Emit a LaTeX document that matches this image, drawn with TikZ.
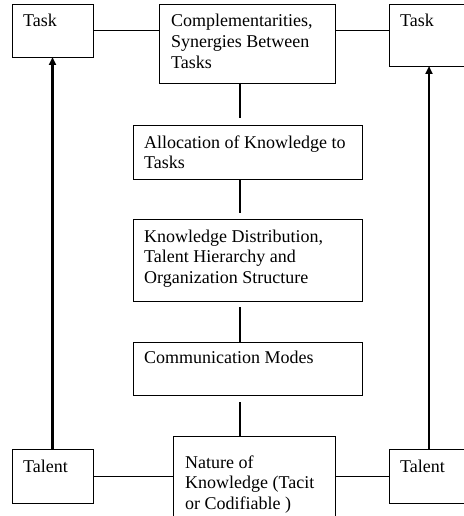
\documentclass[tikz,border=0pt]{standalone}
\usepackage{fontspec}
\setmainfont{Liberation Serif}
\usetikzlibrary{arrows.meta}
\newcommand{\lns}[1]{\begin{tabular}[t]{@{}l@{}}#1\end{tabular}}
\begin{document}
\begin{tikzpicture}[x=1pt,y=-1pt,
  bx/.style={draw, line width=0.9pt, anchor=north west, inner sep=0pt, outer sep=0pt},
  tx/.style={anchor=base west, inner sep=0pt, font=\fontsize{18}{20.7}\selectfont},
  hl/.style={line width=0.9pt},
  vl/.style={line width=2.4pt},
  arr/.style={vl, -{Triangle[length=8pt,width=7pt]}}]
\useasboundingbox[fill=white] (0,0) rectangle (463,516);
% boxes
\node[bx, minimum width=81pt, minimum height=53pt] (taskL) at (12,4) {};
\node[bx, minimum width=176pt, minimum height=79pt] (comp) at (159,4) {};
\node[bx, minimum width=80pt, minimum height=62pt] (taskR) at (389,4) {};
\node[bx, minimum width=229pt, minimum height=54pt] (alloc) at (133,125) {};
\node[bx, minimum width=229pt, minimum height=82pt] (kd) at (133,219) {};
\node[bx, minimum width=229pt, minimum height=53pt] (comm) at (133,342) {};
\node[bx, minimum width=162pt, minimum height=100pt] (nature) at (173,436) {};
\node[bx, minimum width=81pt, minimum height=54pt] (talentL) at (12,449) {};
\node[bx, minimum width=80pt, minimum height=54pt] (talentR) at (389,449) {};
% texts
\node[tx] (tTaskL) at (23,27) {Task};
\node[tx] (tComp) at (171,27) {\lns{Complementarities,\\Synergies Between\\Tasks}};
\node[tx] (tTaskR) at (400,27) {Task};
\node[tx] (tAlloc) at (144,148) {\lns{Allocation of Knowledge to\\Tasks}};
\node[tx] (tKD) at (144,242) {\lns{Knowledge Distribution,\\Talent Hierarchy and\\Organization Structure}};
\node[tx] (tComm) at (144,363) {Communication Modes};
\node[tx] (tNat) at (185,468) {\lns{Nature of\\Knowledge (Tacit\\or Codifiable )}};
\node[tx] (tTalL) at (23,472) {Talent};
\node[tx] (tTalR) at (400,472) {Talent};
% connectors
\coordinate (cx) at (240,0);
\draw[hl] (taskL.east) -- (comp.west |- taskL.east);
\draw[hl] (comp.east |- taskL.east) -- (taskR.west |- taskL.east);
\draw[hl] (talentL.east) -- (nature.west |- talentL.east);
\draw[hl] (nature.east |- talentL.east) -- (talentR.west |- talentL.east);
\draw[arr] (talentL.north) -- (taskL.south);
\draw[arr] (talentR.north) -- (taskR.south);
\draw[vl, shorten >=7pt] (cx |- comp.south) -- (cx |- alloc.north);
\draw[vl, shorten >=6pt] (cx |- alloc.south) -- (cx |- kd.north);
\draw[vl, shorten <=6pt] (cx |- kd.south) -- (cx |- comm.north);
\draw[vl, shorten <=7pt] (cx |- comm.south) -- (cx |- nature.north);
\end{tikzpicture}
\end{document}
